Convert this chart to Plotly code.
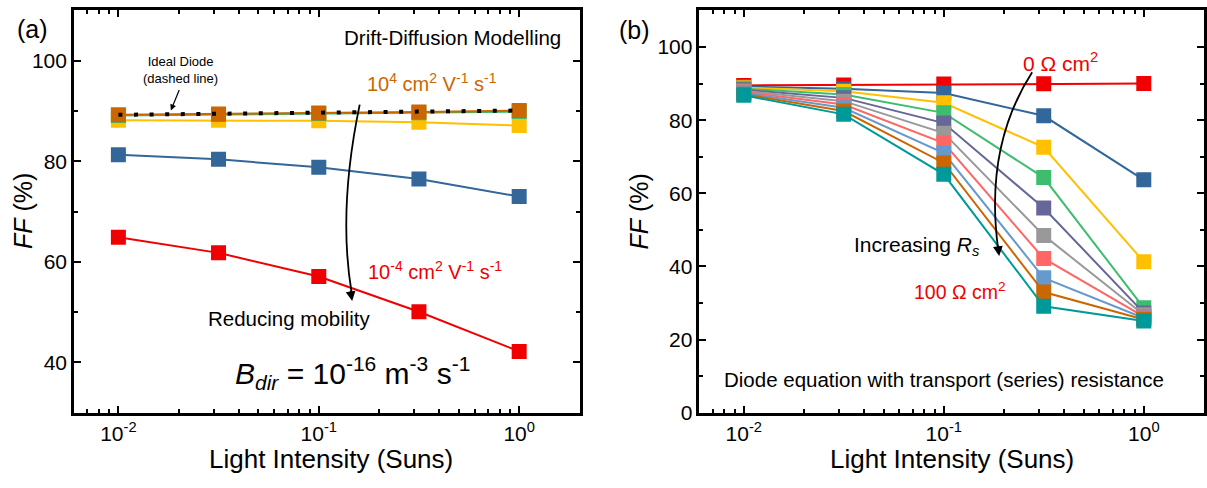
import plotly.graph_objects as go

W, H = 1207, 488

# Light intensity in suns (shared by both panels)
suns = [0.01, 0.0316, 0.1, 0.316, 1.0]

# (a) Drift-diffusion modelling, FF (%) for decreasing mobility
ff_a_mu_high = [89.25, 89.4, 89.6, 89.8, 90.1]      # 10^4 cm2/Vs
ff_a_mu_2 = [89.1, 89.3, 89.5, 89.65, 89.9]
ff_a_mu_3 = [88.15, 88.15, 88.05, 87.75, 87.1]
ff_a_mu_4 = [81.3, 80.4, 78.8, 76.5, 73.0]
ff_a_mu_low = [64.9, 61.8, 57.1, 50.1, 42.2]        # 10^-4 cm2/Vs
ff_a_ideal = [89.25, 89.45, 89.65, 89.85, 90.1]     # ideal diode

colors_a = ["#F00000", "#336699", "#FFC000", "#3DBE6E", "#CC6600"]

# (b) Diode equation with series resistance, FF (%) for increasing Rs
ff_b_rs0 = [89.5, 89.6, 89.9, 89.95, 90.0]
ff_b_rs1 = [89.2, 88.6, 87.4, 81.2, 63.7]
ff_b_rs2 = [88.9, 87.9, 84.75, 72.6, 41.3]
ff_b_rs3 = [88.6, 87.0, 82.0, 64.3, 28.7]
ff_b_rs4 = [88.3, 86.1, 79.2, 56.0, 27.3]
ff_b_rs5 = [88.0, 85.2, 76.45, 48.5, 26.8]
ff_b_rs6 = [87.7, 84.3, 73.75, 42.2, 26.3]
ff_b_rs7 = [87.4, 83.4, 71.0, 36.9, 25.9]
ff_b_rs8 = [87.1, 82.5, 68.3, 33.0, 25.5]
ff_b_rs9 = [86.8, 81.6, 65.2, 29.1, 25.1]

colors_b = ["#F00000", "#336699", "#FFC000", "#3DBE6E", "#666699",
            "#999999", "#FF6666", "#6699CC", "#CC6600", "#009999"]

x_tickvals = [0.01, 0.1, 1]
x_ticktext = ["10<sup>-2</sup>", "10<sup>-1</sup>", "10<sup>0</sup>"]
x_minor = [0.007, 0.008, 0.009] + [k / 100 for k in range(2, 10)] + \
          [k / 10 for k in range(2, 10)]

FONT = "Liberation Sans"


def px(x):
    return x / W


def py(y):
    return 1 - y / H


fig = go.Figure()

series_a = [ff_a_mu_low, ff_a_mu_4, ff_a_mu_3, ff_a_mu_2, ff_a_mu_high]
for vals, col in zip(series_a, colors_a):
    fig.add_trace(go.Scatter(
        x=suns, y=vals, mode="lines+markers", xaxis="x", yaxis="y",
        line=dict(color=col, width=2),
        marker=dict(symbol="square", size=15, color=col),
        showlegend=False, hoverinfo="skip"))

fig.add_trace(go.Scatter(
    x=suns, y=ff_a_ideal, mode="lines", xaxis="x", yaxis="y",
    line=dict(color="black", width=4, dash="4px,11.6px"),
    showlegend=False, hoverinfo="skip"))

series_b = [ff_b_rs0, ff_b_rs1, ff_b_rs2, ff_b_rs3, ff_b_rs4,
            ff_b_rs5, ff_b_rs6, ff_b_rs7, ff_b_rs8, ff_b_rs9]
for vals, col in zip(series_b, colors_b):
    fig.add_trace(go.Scatter(
        x=suns, y=vals, mode="lines+markers", xaxis="x2", yaxis="y2",
        line=dict(color=col, width=2),
        marker=dict(symbol="square", size=15, color=col),
        showlegend=False, hoverinfo="skip"))

common_x = dict(
    type="log", range=[-2.2218, 0.30103],
    tickmode="array", tickvals=x_tickvals, ticktext=x_ticktext,
    ticks="inside", ticklen=7, tickwidth=2, tickcolor="black",
    minor=dict(tickmode="array", tickvals=x_minor, ticks="inside",
               ticklen=4, tickwidth=2, tickcolor="black", showgrid=False),
    showline=True, linewidth=2.5, linecolor="black", mirror="allticks",
    showgrid=False, zeroline=False,
    tickfont=dict(family=FONT, size=21, color="black"),
)
common_y = dict(
    ticks="inside", ticklen=7, tickwidth=2, tickcolor="black",
    showline=True, linewidth=2.5, linecolor="black", mirror="allticks",
    showgrid=False, zeroline=False,
    tickfont=dict(family=FONT, size=21, color="black"),
)
y_dom = [py(422.3), py(10.7)]

fig.update_layout(
    width=W, height=H,
    margin=dict(l=0, r=0, t=0, b=0),
    paper_bgcolor="white", plot_bgcolor="white",
    font=dict(family=FONT, color="black"),
    xaxis=dict(domain=[px(74), px(580)], anchor="y", **common_x),
    yaxis=dict(domain=y_dom, anchor="x", range=[30, 110],
               tickvals=[40, 60, 80, 100],
               minor=dict(tickmode="array", tickvals=[50, 70, 90],
                          ticks="inside", ticklen=4, tickwidth=2,
                          tickcolor="black", showgrid=False),
               **common_y),
    xaxis2=dict(domain=[px(700), px(1205)], anchor="y2", **common_x),
    yaxis2=dict(domain=y_dom, anchor="x2", range=[0, 110],
                tickvals=[0, 20, 40, 60, 80, 100],
                minor=dict(tickmode="array", tickvals=[10, 30, 50, 70, 90],
                           ticks="inside", ticklen=4, tickwidth=2,
                           tickcolor="black", showgrid=False),
                **common_y),
)


def label(x, y, text, size=20, color="black", angle=0):
    fig.add_annotation(x=px(x), y=py(y), xref="paper", yref="paper",
                       text=text, showarrow=False, textangle=angle,
                       font=dict(family=FONT, size=size, color=color),
                       xanchor="center", yanchor="middle")


def arrowhead(tip, back):
    fig.add_annotation(x=px(tip[0]), y=py(tip[1]), xref="paper", yref="paper",
                       text="", showarrow=True, ax=back[0], ay=back[1],
                       arrowhead=2, arrowsize=1.3, arrowwidth=1.5,
                       arrowcolor="black", standoff=0, startstandoff=0)


def curve(p0, c, p1):
    path = "M {:.5f},{:.5f} Q {:.5f},{:.5f} {:.5f},{:.5f}".format(
        px(p0[0]), py(p0[1]), px(c[0]), py(c[1]), px(p1[0]), py(p1[1]))
    fig.add_shape(type="path", path=path, xref="paper", yref="paper",
                  line=dict(color="black", width=1.8))


# axis titles
label(23, 216, "<i>FF</i> (%)", size=25, angle=-90)
label(640, 216, "<i>FF</i> (%)", size=25, angle=-90)
label(331, 470, "Light Intensity (Suns)", size=26)
label(953, 470, "Light Intensity (Suns)", size=26)

# panel (a) text
label(33, 30, "(a)", size=25)
label(452.5, 38, "Drift-Diffusion Modelling", size=20.5)
label(181, 72, "Ideal Diode<br>(dashed line)", size=13)
fig.add_annotation(x=px(171), y=py(113), xref="paper", yref="paper",
                   text="", showarrow=True, ax=9, ay=-22,
                   arrowhead=2, arrowsize=1, arrowwidth=1.2,
                   arrowcolor="black", standoff=0)
label(432, 84, "10<sup>4</sup> cm<sup>2</sup> V<sup>-1</sup> s<sup>-1</sup>",
      size=20, color="#CC6600")
label(435, 277, "10<sup>-4</sup> cm<sup>2</sup> V<sup>-1</sup> s<sup>-1</sup>",
      size=20, color="#F00000")
label(289.5, 326, "Reducing mobility", size=20.5)
label(352.5, 382,
      "<i>B</i><sub><i>dir</i></sub> = 10<sup>-16</sup> m<sup>-3</sup> s<sup>-1</sup>",
      size=30)
curve((360, 107), (338, 215), (352, 300))
arrowhead((352.5, 308), (-2, -12))

# panel (b) text
label(635, 31, "(b)", size=25)
label(1061.5, 63, "0 Ω cm<sup>2</sup>", size=21, color="#F00000")
label(918, 252, "Increasing <i>R</i><sub><i>s</i></sub>", size=21)
label(961, 298, "100 Ω cm<sup>2</sup>", size=19.5, color="#F00000")
label(944.5, 388, "Diode equation with transport (series) resistance", size=20.5)
curve((1033, 74), (985, 150), (999, 255))
arrowhead((1000, 262), (-1.6, -12))

fig.write_html("out.html", config={"displayModeBar": False})
